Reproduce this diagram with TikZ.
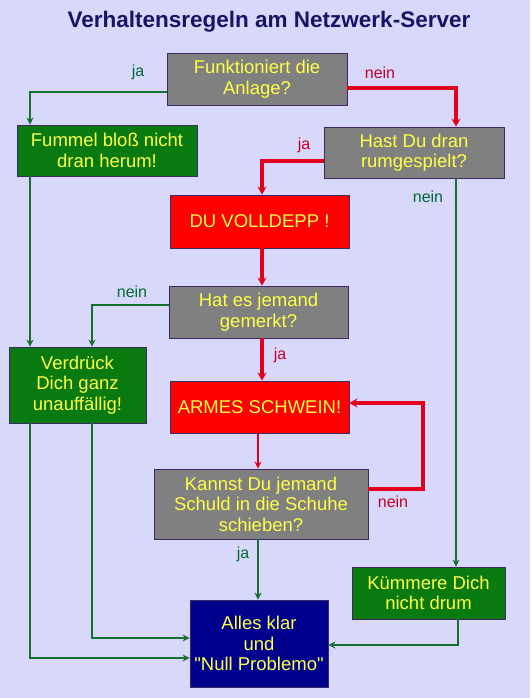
\documentclass[tikz,border=0pt]{standalone}
\usepackage{fontspec}
\setmainfont{Liberation Sans}
\usetikzlibrary{arrows.meta}
\definecolor{bg}{RGB}{216,216,250}
\definecolor{gbox}{RGB}{128,128,128}
\definecolor{grbox}{RGB}{8,122,16}
\definecolor{rbox}{RGB}{255,0,0}
\definecolor{nbox}{RGB}{0,0,140}
\definecolor{ytext}{RGB}{255,255,70}
\definecolor{gline}{RGB}{20,112,45}
\definecolor{rline}{RGB}{225,0,30}
\definecolor{glab}{RGB}{0,105,50}
\definecolor{rlab}{RGB}{195,0,40}
\definecolor{titlec}{RGB}{20,20,105}
\definecolor{bord}{RGB}{60,40,100}
\tikzset{
  box/.style={draw=bord, line width=0.8pt, text=ytext, align=center, inner sep=2pt,
    font=\fontsize{18.5}{20.5}\selectfont},
  qbox/.style={box, fill=gbox},
  gbox/.style={box, fill=grbox},
  rbox/.style={box, fill=rbox},
  nbox/.style={box, fill=nbox},
  gcon/.style={draw=gline, line width=2.7pt, -{Stealth[length=7pt,width=7pt]}},
  rcon/.style={draw=rline, line width=4pt, -{Stealth[length=8pt,width=9pt]}},
  rthin/.style={draw=rline, line width=2.7pt, -{Stealth[length=7pt,width=7pt]}},
  glabel/.style={text=glab, font=\fontsize{16}{18}\selectfont},
  rlabel/.style={text=rlab, font=\fontsize{16}{18}\selectfont},
}
\begin{document}
\begin{tikzpicture}[x=1pt,y=-1pt]
\fill[bg] (0,0) rectangle (530,698);
\useasboundingbox (0,0) rectangle (530,698);

\node[text=titlec, font=\bfseries\fontsize{22.5}{26}\selectfont] (title) at (269,22) {Verhaltensregeln am Netzwerk-Server};

\node[qbox, minimum width=180pt, minimum height=52pt] (b1) at (257,79) {Funktioniert die\\Anlage?};
\node[gbox, minimum width=180pt, minimum height=51pt] (b2) at (107,150.5) {Fummel bloß nicht\\dran herum!};
\node[qbox, minimum width=180pt, minimum height=51pt] (b3) at (414,152.5) {Hast Du dran\\rumgespielt?};
\node[rbox, minimum width=179pt, minimum height=53pt] (b4) at (259.5,221.5) {DU VOLLDEPP !};
\node[qbox, minimum width=179pt, minimum height=52pt] (b5) at (258.5,312) {Hat es jemand\\gemerkt?};
\node[gbox, minimum width=137pt, minimum height=76pt] (b6) at (77.5,385) {Verdrück\\Dich ganz\\unauffällig!};
\node[rbox, minimum width=179pt, minimum height=52pt] (b7) at (259.5,407) {ARMES SCHWEIN!};
\node[qbox, minimum width=214pt, minimum height=70pt] (b8) at (261,504) {Kannst Du jemand\\Schuld in die Schuhe\\schieben?};
\node[gbox, minimum width=153pt, minimum height=52pt] (b9) at (428.5,593) {Kümmere Dich\\nicht drum};
\node[nbox, minimum width=138pt, minimum height=87pt] (b10) at (259,643.5) {Alles klar\\und\\\textquotedbl Null Problemo\textquotedbl};

% connectors
\draw[gcon] ([yshift=-13pt]b1.west) -| ([xshift=-77pt]b2.north);
\draw[rcon] ([yshift=-9pt]b1.east) -| ([xshift=42pt]b3.north);
\draw[rcon] ([yshift=-8.5pt]b3.west) -| ([xshift=2.5pt]b4.north);
\draw[gcon] ([xshift=42pt]b3.south) -- ([xshift=42pt]b3.south |- b9.north);
\draw[rcon] ([xshift=2.5pt]b4.south) -- ([xshift=3.5pt]b5.north);
\draw[gcon] ([yshift=7pt]b5.west) -| ([xshift=14.5pt]b6.north);
\draw[gcon] ([xshift=-77pt]b2.south) -- ([xshift=-77pt]b2.south |- b6.north);
\draw[rcon] ([xshift=3.5pt]b5.south) -- ([xshift=2.5pt]b7.north);
\draw[rthin] ([xshift=-1.5pt]b7.south) -- ([xshift=-3pt]b8.north);
\draw[rcon] ([yshift=15pt]b8.east) -- ++(55pt,0) |- ([yshift=4pt]b7.east);
\draw[gcon] ([xshift=-3pt]b8.south) -- ([xshift=-1pt]b10.north);
\draw[gcon] ([xshift=-47.5pt]b6.south) |- ([yshift=-14.5pt]b10.west);
\draw[gcon] ([xshift=14.5pt]b6.south) |- ([yshift=5.5pt]b10.west);
\draw[gcon] ([xshift=29.5pt]b9.south) |- ([yshift=-1.5pt]b10.east);

% labels
\node[glabel] (l1) at (138,72) {ja};
\node[rlabel] (l2) at (380,73) {nein};
\node[rlabel] (l3) at (304,145) {ja};
\node[glabel] (l4) at (428,197) {nein};
\node[glabel] (l5) at (132,292) {nein};
\node[rlabel] (l6) at (280,355) {ja};
\node[rlabel] (l7) at (393,502) {nein};
\node[glabel] (l8) at (243,554) {ja};
\end{tikzpicture}
\end{document}
